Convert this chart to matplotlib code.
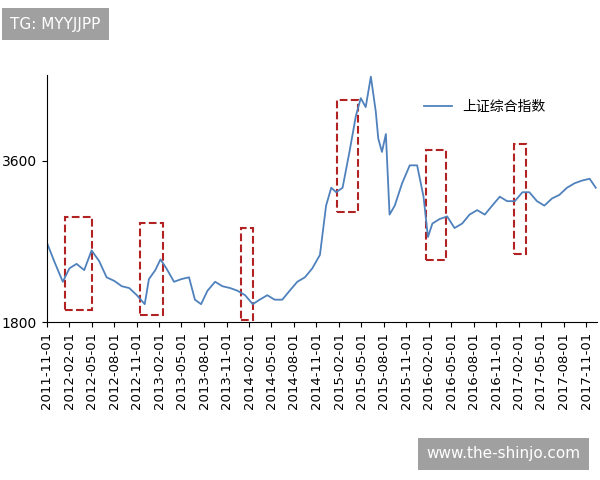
import pandas as pd
import matplotlib.pyplot as plt
from matplotlib.patches import Rectangle
import matplotlib.dates as mdates

plt.rcParams['font.family'] = ['DejaVu Sans', 'Noto Sans CJK SC']

dates = ['2011-11-01', '2011-12-01', '2012-01-05', '2012-02-01', '2012-03-01', '2012-04-01',
         '2012-05-01', '2012-06-01', '2012-07-01', '2012-08-01', '2012-09-01', '2012-10-01',
         '2012-11-01', '2012-12-03', '2012-12-20', '2013-01-15', '2013-02-05', '2013-03-01',
         '2013-04-01', '2013-05-01', '2013-06-01', '2013-06-25', '2013-07-20', '2013-08-15',
         '2013-09-15', '2013-10-15', '2013-11-15', '2013-12-15', '2014-01-15', '2014-02-15',
         '2014-03-15', '2014-04-15', '2014-05-15', '2014-06-15', '2014-07-15', '2014-08-15',
         '2014-09-15', '2014-10-15', '2014-11-15', '2014-12-10', '2014-12-31', '2015-01-20',
         '2015-02-15', '2015-03-15', '2015-04-10', '2015-04-30', '2015-05-20', '2015-06-10',
         '2015-06-30', '2015-07-10', '2015-07-25', '2015-08-10', '2015-08-25', '2015-09-15',
         '2015-10-15', '2015-11-15', '2015-12-15', '2016-01-10', '2016-01-28', '2016-02-15',
         '2016-03-15', '2016-04-15', '2016-05-15', '2016-06-15', '2016-07-15', '2016-08-15',
         '2016-09-15', '2016-10-15', '2016-11-15', '2016-12-15', '2017-01-15', '2017-02-15',
         '2017-03-15', '2017-04-15', '2017-05-15', '2017-06-15', '2017-07-15', '2017-08-15',
         '2017-09-15', '2017-10-15', '2017-11-15', '2017-12-10']
index = [2690, 2480, 2250, 2400, 2450, 2380, 2600, 2480, 2300, 2260, 2200, 2180,
         2100, 2000, 2280, 2380, 2500, 2400, 2250, 2280, 2300, 2050, 2000, 2150,
         2250, 2200, 2180, 2150, 2100, 2000, 2050, 2100, 2050, 2050, 2150, 2250,
         2300, 2400, 2550, 3100, 3300, 3250, 3300, 3700, 4100, 4300, 4200, 4540,
         4150, 3850, 3700, 3900, 3000, 3100, 3350, 3550, 3550, 3200, 2750, 2900,
         2950, 2980, 2850, 2900, 3000, 3050, 3000, 3100, 3200, 3150, 3150, 3250,
         3250, 3150, 3100, 3180, 3220, 3300, 3350, 3380, 3400, 3300]

boxes = [('2012-01-12', '2012-05-04', 1935, 2975),
         ('2012-11-13', '2013-02-15', 1880, 2905),
         ('2013-12-28', '2014-02-18', 1820, 2850),
         ('2015-01-22', '2015-04-18', 3030, 4280),
         ('2016-01-22', '2016-04-10', 2490, 3720),
         ('2017-01-10', '2017-02-28', 2560, 3790)]

x = pd.to_datetime(dates)
fig = plt.figure(figsize=(6, 4.8), dpi=100)
ax = fig.add_axes([0.078, 0.329, 0.917, 0.515])
ax.plot(x, index, color='#4f81bd', lw=1.3, label='上证综合指数')

for a, b, lo, hi in boxes:
    x0 = mdates.date2num(pd.Timestamp(a))
    x1 = mdates.date2num(pd.Timestamp(b))
    ax.add_patch(Rectangle((x0, lo), x1 - x0, hi - lo, fill=False, ec='#b22222', ls='--', lw=1.5))

ax.set_xlim(pd.Timestamp('2011-11-01'), pd.Timestamp('2017-12-15'))
ax.set_ylim(1800, 4560)
ax.set_yticks([1800, 3600])
ticks = pd.date_range('2011-11-01', '2017-11-01', freq='3MS')
ax.set_xticks(ticks)
ax.set_xticklabels([t.strftime('%Y-%m-%d') for t in ticks], rotation=90, fontsize=9.5)
ax.tick_params(axis='y', labelsize=10)
for s in ['top', 'right']:
    ax.spines[s].set_visible(False)
ax.legend(loc='upper right', bbox_to_anchor=(0.93, 0.95), frameon=False, fontsize=10)

fig.text(0.017, 0.95, 'TG: MYYJJPP', fontsize=11, color='white', va='center',
         bbox=dict(fc='#a0a0a0', ec='none', pad=6))
fig.text(0.71, 0.055, 'www.the-shinjo.com', fontsize=11, color='white', va='center',
         bbox=dict(fc='#a0a0a0', ec='none', pad=6))
fig.savefig('out.png')
